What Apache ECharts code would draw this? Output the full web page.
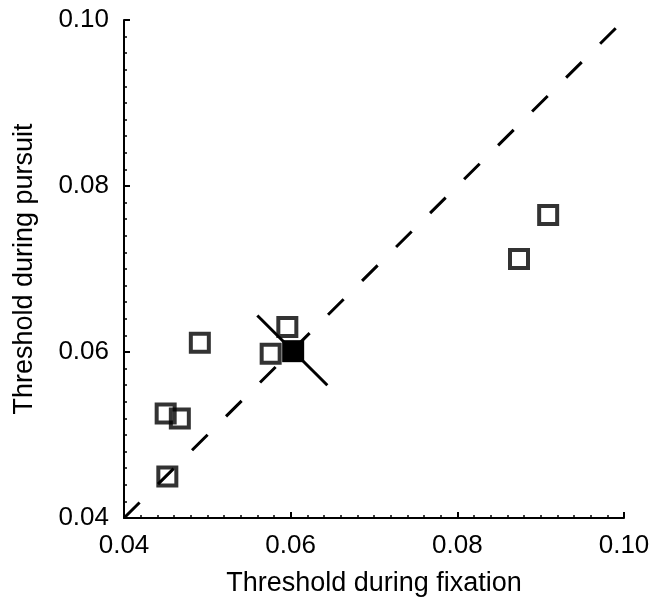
<!DOCTYPE html>
<html>
<head>
<meta charset="utf-8">
<script src="https://cdn.jsdelivr.net/npm/echarts@6/dist/echarts.min.js"></script>
<style>
  html, body { margin: 0; padding: 0; background: #fff; }
  #chart { width: 655px; height: 607px; }
</style>
</head>
<body>
<div id="chart"></div>
<script>
var chart = echarts.init(document.getElementById("chart"));

// open squares (fixation threshold, pursuit threshold)
let openX = [0.0909, 0.0874, 0.0596, 0.0576, 0.0491, 0.0450, 0.0467, 0.0452];
let openY = [0.0765, 0.0712, 0.0630, 0.0598, 0.0611, 0.0526, 0.0520, 0.0450];

// filled square (mean) and the bar crossing it
let meanX = [0.0603];
let meanY = [0.0601];
let crossX = [0.0560, 0.0644];
let crossY = [0.0644, 0.0560];

// unity line
let unityX = [0.04, 0.10];
let unityY = [0.04, 0.10];

function pairs(xs, ys) {
  return xs.map(function (x, i) { return [x, ys[i]]; });
}

var font = "Liberation Sans, Arial, sans-serif";

function axis(name, gap) {
  return {
    type: "value",
    name: name,
    nameLocation: "middle",
    nameGap: gap,
    nameTextStyle: { fontFamily: font, fontSize: 27, color: "#000" },
    min: 0.04,
    max: 0.10,
    interval: 0.02,
    axisLine: { show: true, lineStyle: { color: "#000", width: 2 } },
    axisTick: { show: true, inside: true, length: 6, lineStyle: { color: "#000", width: 2 } },
    minorTick: { show: true, splitNumber: 10, length: 3, lineStyle: { color: "#000", width: 1.5 } },
    splitLine: { show: false },
    axisLabel: {
      fontFamily: font, fontSize: 26, color: "#000", margin: 15,
      formatter: function (v) { return v.toFixed(2); }
    }
  };
}

chart.setOption({
  animation: false,
  grid: { left: 124, right: 31, top: 20, bottom: 89 },
  xAxis: axis("Threshold during fixation", 52),
  yAxis: axis("Threshold during pursuit", 86),
  series: [
    {
      type: "line",
      data: pairs(unityX, unityY),
      symbol: "none",
      silent: true,
      lineStyle: { color: "#000", width: 3, type: [22, 26] },
      z: 1
    },
    {
      type: "line",
      data: pairs(crossX, crossY),
      symbol: "none",
      silent: true,
      lineStyle: { color: "#000", width: 3 },
      z: 2
    },
    {
      type: "scatter",
      data: pairs(openX, openY),
      symbol: "rect",
      symbolSize: 18,
      itemStyle: { color: "transparent", borderColor: "#000", borderWidth: 4 },
      z: 3
    },
    {
      type: "scatter",
      data: pairs(meanX, meanY),
      symbol: "rect",
      symbolSize: 22,
      itemStyle: { color: "#000", opacity: 1, borderWidth: 0 },
      z: 4
    }
  ]
});
</script>
</body>
</html>
